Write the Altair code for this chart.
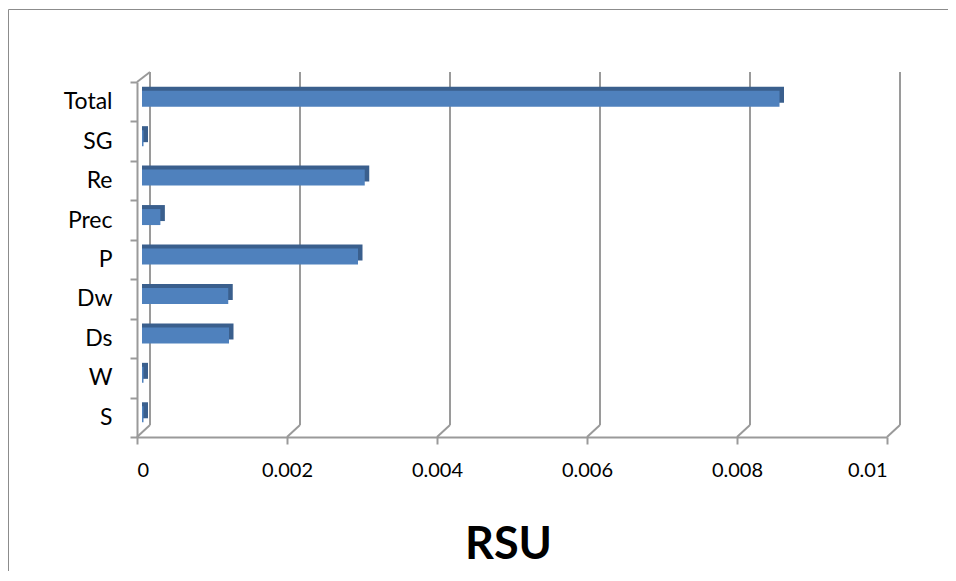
import altair as alt
import pandas as pd

categories = ["Total", "SG", "Re", "Prec", "P", "Dw", "Ds", "W", "S"]
values = [0.0085, 0.00002, 0.00297, 0.000245, 0.00288, 0.00115, 0.00116, 0.00002, 0.00002]
tick_values = [0, 0.002, 0.004, 0.006, 0.008, 0.01]

bars = pd.DataFrame({"cat": categories, "val": values})
ticks = pd.DataFrame({"t": tick_values})
origin = pd.DataFrame({"t": [0]})

GRID = "#9a9a9a"
FONT = "Lato"

xscale = alt.Scale(domain=[0, 0.01], nice=False, zero=True)
yscale = alt.Scale(domain=categories, paddingInner=0, paddingOuter=0)

x_axis = alt.Axis(values=tick_values, format="~g", grid=False, domainColor=GRID, domainWidth=2,
                  tickColor=GRID, tickWidth=2, tickSize=7, labelFont=FONT, labelFontSize=20,
                  labelColor="black", labelPadding=16, title="RSU", titleFont=FONT,
                  titleFontSize=45, titleFontWeight="bold", titleColor="black", titlePadding=42,
                  titleX=371)
y_axis = alt.Axis(grid=False, domainColor=GRID, domainWidth=2, tickColor=GRID, tickWidth=2,
                  tickSize=7, tickBand="extent", labelFont=FONT, labelFontSize=23,
                  labelColor="black", labelPadding=18, title=None)

# back wall vertical gridlines
grid_v = alt.Chart(ticks).mark_rule(color=GRID, strokeWidth=2, xOffset=13).encode(
    x=alt.X("t:Q", scale=xscale, axis=x_axis),
    y=alt.value(-10), y2=alt.value(343))
# floor diagonals
grid_d = alt.Chart(ticks).mark_rule(color=GRID, strokeWidth=2, xOffset=13, x2Offset=0).encode(
    x=alt.X("t:Q", scale=xscale), x2="t:Q",
    y=alt.value(343), y2=alt.value(355))
# left wall top diagonal
wall_d = alt.Chart(origin).mark_rule(color=GRID, strokeWidth=2, xOffset=0, x2Offset=13).encode(
    x=alt.X("t:Q", scale=xscale), x2="t:Q",
    y=alt.value(0), y2=alt.value(-10))

back = alt.Chart(bars).mark_bar(color="#3A5F8D", size=16, xOffset=9.5, x2Offset=5, yOffset=-7).encode(
    y=alt.Y("cat:N", sort=categories, scale=yscale, axis=y_axis),
    x=alt.X("val:Q", scale=xscale), x2=alt.datum(0))
front = alt.Chart(bars).mark_bar(color="#4F81BD", size=16, xOffset=5, x2Offset=5, yOffset=-3).encode(
    y=alt.Y("cat:N", sort=categories, scale=yscale),
    x=alt.X("val:Q", scale=xscale), x2=alt.datum(0))

# outer frame (top and left border)
frame_top = alt.Chart(origin).mark_rule(color="#8c8c8c", strokeWidth=1).encode(
    x=alt.value(-128.5), x2=alt.value(820), y=alt.value(-72.5))
frame_left = alt.Chart(origin).mark_rule(color="#8c8c8c", strokeWidth=1).encode(
    x=alt.value(-128.5), y=alt.value(-72.5), y2=alt.value(500))

chart = alt.layer(frame_top, frame_left, grid_v, grid_d, wall_d, back, front).properties(
    width=750, height=355, autosize="none", background="white",
    padding={"left": 129, "top": 74, "right": 61, "bottom": 134},
).configure_view(stroke=None)

chart.save("out.html", embed_options={"renderer": "svg", "actions": False})
